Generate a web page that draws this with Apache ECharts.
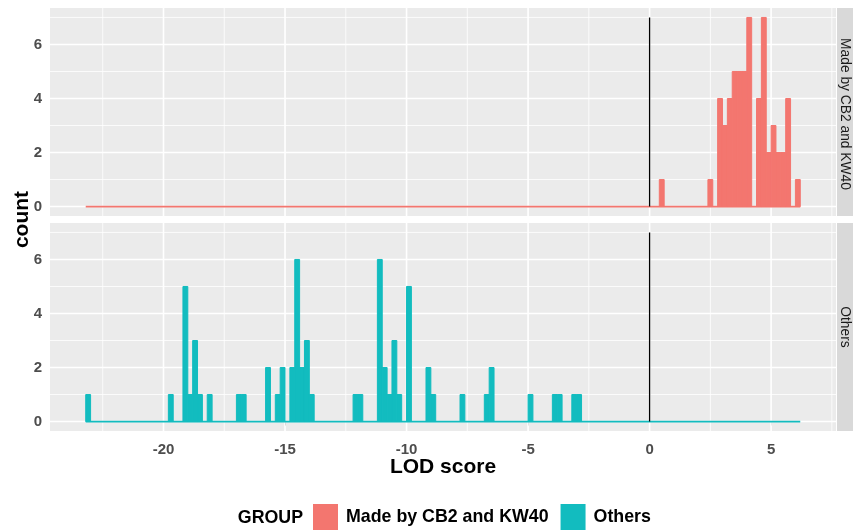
<!DOCTYPE html>
<html><head><meta charset="utf-8">
<script src="https://cdn.jsdelivr.net/npm/echarts@6/dist/echarts.min.js"></script>
<style>html,body{margin:0;padding:0;background:#fff}#c{width:853px;height:531px}</style>
</head><body><div id="c"></div>
<script>
// ---------- data ----------
const groups = ["Made by CB2 and KW40", "Others"];
const groupColors = ["#F3766F", "#12BCBF"];
const binWidth = 0.2;
const binRange = [-23.2, 6.2];           // outer edges of the histogram bins
const madeBinStarts = [0.4, 2.4, 2.8, 3.0, 3.2, 3.4, 3.6, 3.8, 4.0, 4.4, 4.6, 4.8, 5.0, 5.2, 5.4, 5.6, 6.0];
const madeCounts    = [1,   1,   4,   3,   4,   5,   5,   5,   7,   4,   7,   2,   3,   2,   2,   4,   1];
const otherBinStarts = [-23.2,-19.8,-19.2,-19.0,-18.8,-18.6,-18.2,-17.0,-16.8,-15.8,-15.4,-15.2,-14.8,-14.6,-14.4,-14.2,-14.0,-12.2,-12.0,-11.2,-11.0,-10.8,-10.6,-10.4,-10.0,-9.2,-9.0,-7.8,-6.8,-6.6,-5.0,-4.0,-3.8,-3.2,-3.0];
const otherCounts    = [1,    1,    5,    1,    3,    1,    1,    1,    1,    2,    1,    2,    2,    6,    2,    3,    1,    1,    1,    6,    2,    1,    3,    1,    5,    2,   1,   1,   1,   2,   1,   1,   1,   1,   1];
const xTickLabels = [-20, -15, -10, -5, 0, 5];
const xMinorBreaks = [-22.5, -17.5, -12.5, -7.5, -2.5, 2.5, 7.5];
const yTickLabels = [0, 2, 4, 6];
const yMinorBreaks = [1, 3, 5, 7];
const refLineX = 0, refLineTop = 7;
const xLimits = [-24.67, 7.67];
const yLimits = [-0.35, 7.35];

// ---------- chart ----------
const FONT = "'Liberation Sans', Arial, sans-serif";
const chart = echarts.init(document.getElementById('c'), null, {renderer: 'canvas'});

const gridDefs = [
  {left: 50, top: 8, width: 786, height: 208},
  {left: 50, top: 223, width: 786, height: 208}
];

function barRender(color) {
  return function (params, api) {
    const x0 = api.value(0), c = api.value(1);
    const p0 = api.coord([x0, 0]);
    const p1 = api.coord([x0 + binWidth, c]);
    return {
      type: 'rect',
      shape: {x: p0[0], y: p1[1], width: p1[0] - p0[0], height: p0[1] - p1[1]},
      style: {fill: color, stroke: color, lineWidth: 1}
    };
  };
}
function vGridRender(width) {
  return function (params, api) {
    const v = api.value(0);
    const a = api.coord([v, yLimits[0]]), b = api.coord([v, yLimits[1]]);
    return {type: 'line', shape: {x1: a[0], y1: a[1], x2: b[0], y2: b[1]}, style: {stroke: '#FFFFFF', lineWidth: width}};
  };
}
function hGridRender(width) {
  return function (params, api) {
    const v = api.value(0);
    const a = api.coord([xLimits[0], v]), b = api.coord([xLimits[1], v]);
    return {type: 'line', shape: {x1: a[0], y1: a[1], x2: b[0], y2: b[1]}, style: {stroke: '#FFFFFF', lineWidth: width}};
  };
}

const series = [];
const binSets = [[madeBinStarts, madeCounts], [otherBinStarts, otherCounts]];
for (let g = 0; g < 2; g++) {
  series.push({type: 'custom', name: 'vmajor' + g, xAxisIndex: g, yAxisIndex: g, silent: true, z: 1,
    renderItem: vGridRender(1.6), data: xTickLabels.map(v => [v]), encode: {x: 0}});
  series.push({type: 'custom', name: 'vminor' + g, xAxisIndex: g, yAxisIndex: g, silent: true, z: 1,
    renderItem: vGridRender(0.8), data: xMinorBreaks.map(v => [v]), encode: {x: 0}});
  series.push({type: 'custom', name: 'hmajor' + g, xAxisIndex: g, yAxisIndex: g, silent: true, z: 1,
    renderItem: hGridRender(1.6), data: yTickLabels.map(v => [v]), encode: {y: 0}});
  series.push({type: 'custom', name: 'hminor' + g, xAxisIndex: g, yAxisIndex: g, silent: true, z: 1,
    renderItem: hGridRender(0.8), data: yMinorBreaks.map(v => [v]), encode: {y: 0}});
  // zero-count bins (baseline)
  series.push({type: 'line', name: 'base' + g, xAxisIndex: g, yAxisIndex: g, silent: true, z: 3,
    symbol: 'none', data: [[binRange[0], 0], [binRange[1], 0]],
    lineStyle: {color: groupColors[g], width: 1.8}});
  // bars
  series.push({type: 'custom', name: groups[g], xAxisIndex: g, yAxisIndex: g, z: 4,
    itemStyle: {color: groupColors[g]},
    renderItem: barRender(groupColors[g]),
    data: binSets[g][0].map((s, i) => [s, binSets[g][1][i]]),
    encode: {x: 0, y: 1}});
  // reference line at 0
  series.push({type: 'line', name: 'ref' + g, xAxisIndex: g, yAxisIndex: g, silent: true, z: 5,
    symbol: 'none', data: [[refLineX, 0], [refLineX, refLineTop]],
    lineStyle: {color: '#000000', width: 1.3}});
}

const labelStyle = {fontFamily: FONT, fontWeight: 'bold', fontSize: 15, color: '#4D4D4D'};

const option = {
  backgroundColor: '#FFFFFF',
  animation: false,
  grid: gridDefs.map(d => Object.assign({backgroundColor: '#EBEBEB', show: true, borderWidth: 0, containLabel: false}, d)),
  xAxis: [0, 1].map(g => ({
    type: 'value', gridIndex: g, min: xLimits[0], max: xLimits[1],
    axisLine: {show: false}, splitLine: {show: false},
    axisTick: {show: g === 1, customValues: xTickLabels, length: 4, lineStyle: {color: '#333333', width: 1}},
    axisLabel: Object.assign({show: g === 1, customValues: xTickLabels, margin: 11}, labelStyle)
  })),
  yAxis: [0, 1].map(g => ({
    type: 'value', gridIndex: g, min: yLimits[0], max: yLimits[1],
    axisLine: {show: false}, splitLine: {show: false},
    axisTick: {show: true, customValues: yTickLabels, length: 4, lineStyle: {color: '#333333', width: 1}},
    axisLabel: Object.assign({customValues: yTickLabels, margin: 8}, labelStyle)
  })),
  legend: {
    data: groups, left: 313, top: 504, padding: 0, itemWidth: 25, itemHeight: 26, itemGap: 12,
    icon: 'rect', selectedMode: false,
    textStyle: {fontFamily: FONT, fontWeight: 'bold', fontSize: 17.8, color: '#000000', padding: [0, 0, 0, 3]}
  },
  graphic: [
    {type: 'rect', shape: {x: 837, y: 8, width: 16, height: 208}, style: {fill: '#D9D9D9'}},
    {type: 'rect', shape: {x: 837, y: 223, width: 16, height: 208}, style: {fill: '#D9D9D9'}},
    {type: 'text', x: 845, y: 114, rotation: -Math.PI / 2,
      style: {text: groups[0], fill: '#1A1A1A', font: "13.8px 'Liberation Sans', Arial, sans-serif", textAlign: 'center', textVerticalAlign: 'middle'}},
    {type: 'text', x: 845, y: 327, rotation: -Math.PI / 2,
      style: {text: groups[1], fill: '#1A1A1A', font: "13.8px 'Liberation Sans', Arial, sans-serif", textAlign: 'center', textVerticalAlign: 'middle'}},
    {type: 'text', x: 22, y: 219.5, rotation: Math.PI / 2,
      style: {text: 'count', fill: '#000000', font: "bold 21px 'Liberation Sans', Arial, sans-serif", textAlign: 'center', textVerticalAlign: 'middle'}},
    {type: 'text', x: 443, y: 467,
      style: {text: 'LOD score', fill: '#000000', font: "bold 21px 'Liberation Sans', Arial, sans-serif", textAlign: 'center', textVerticalAlign: 'middle'}},
    {type: 'text', x: 303, y: 518,
      style: {text: 'GROUP', fill: '#000000', font: "bold 17.8px 'Liberation Sans', Arial, sans-serif", textAlign: 'right', textVerticalAlign: 'middle'}}
  ],
  series: series
};
chart.setOption(option);
</script>
</body></html>
